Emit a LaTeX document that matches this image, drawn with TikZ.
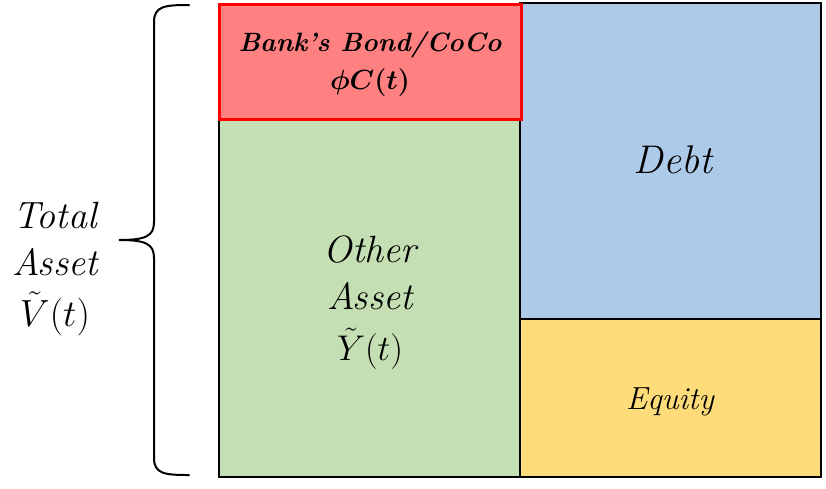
\documentclass[tikz,border=0pt]{standalone}
\usepackage{amsmath}
\usepackage{graphicx}
\newcommand{\scmath}[2]{\resizebox{#1}{!}{$#2$}}
\begin{document}
\begin{tikzpicture}[x=1pt,y=-1pt,
  cell/.style={draw=black,line width=2.2pt},
  lbl/.style={font=\fontsize{38}{47}\selectfont\itshape,align=center},
  ]
\definecolor{cred}{HTML}{FF8080}
\definecolor{cgreen}{HTML}{C5DFB4}
\definecolor{cblue}{HTML}{AECAE9}
\definecolor{cyellow}{HTML}{FFDC7A}
\useasboundingbox (0,0) rectangle (826,488);
% cells
\filldraw[cell,fill=cgreen] (219,119) rectangle (520,477);
\filldraw[cell,fill=cblue] (520,3) rectangle (821,319);
\filldraw[cell,fill=cyellow] (520,319) rectangle (821,477);
\filldraw[draw=red,line width=3pt,fill=cred] (219,4) rectangle (521,119);
% labels
\node[font=\fontsize{26.5}{38}\selectfont\bfseries\itshape,align=center] (bond) at (370,64)
  {Bank's Bond/CoCo\\\scmath{80pt}{\boldsymbol{\phi C(t)}}};
\node[lbl] (other) at (370,303) {Other\\Asset\\[4pt]\scmath{66pt}{\tilde Y(t)}};
\node[font=\fontsize{40}{48}\selectfont\itshape] (debt) at (673,160) {Debt};
\node[font=\fontsize{32}{36}\selectfont\itshape] (equity) at (670,402) {Equity};
\node[lbl] (total) at (55,269) {Total\\Asset\\[4pt]\scmath{70pt}{\tilde V(t)}};
% brace
\draw[line width=2pt,line cap=round]
  (189,5) .. controls (165,5) and (154,6) .. (154,22) -- (154,222)
  .. controls (154,236) and (146,240) .. (119,240)
  .. controls (146,240) and (154,244) .. (154,258) -- (154,458)
  .. controls (154,474) and (165,475) .. (189,475);
\end{tikzpicture}
\end{document}
